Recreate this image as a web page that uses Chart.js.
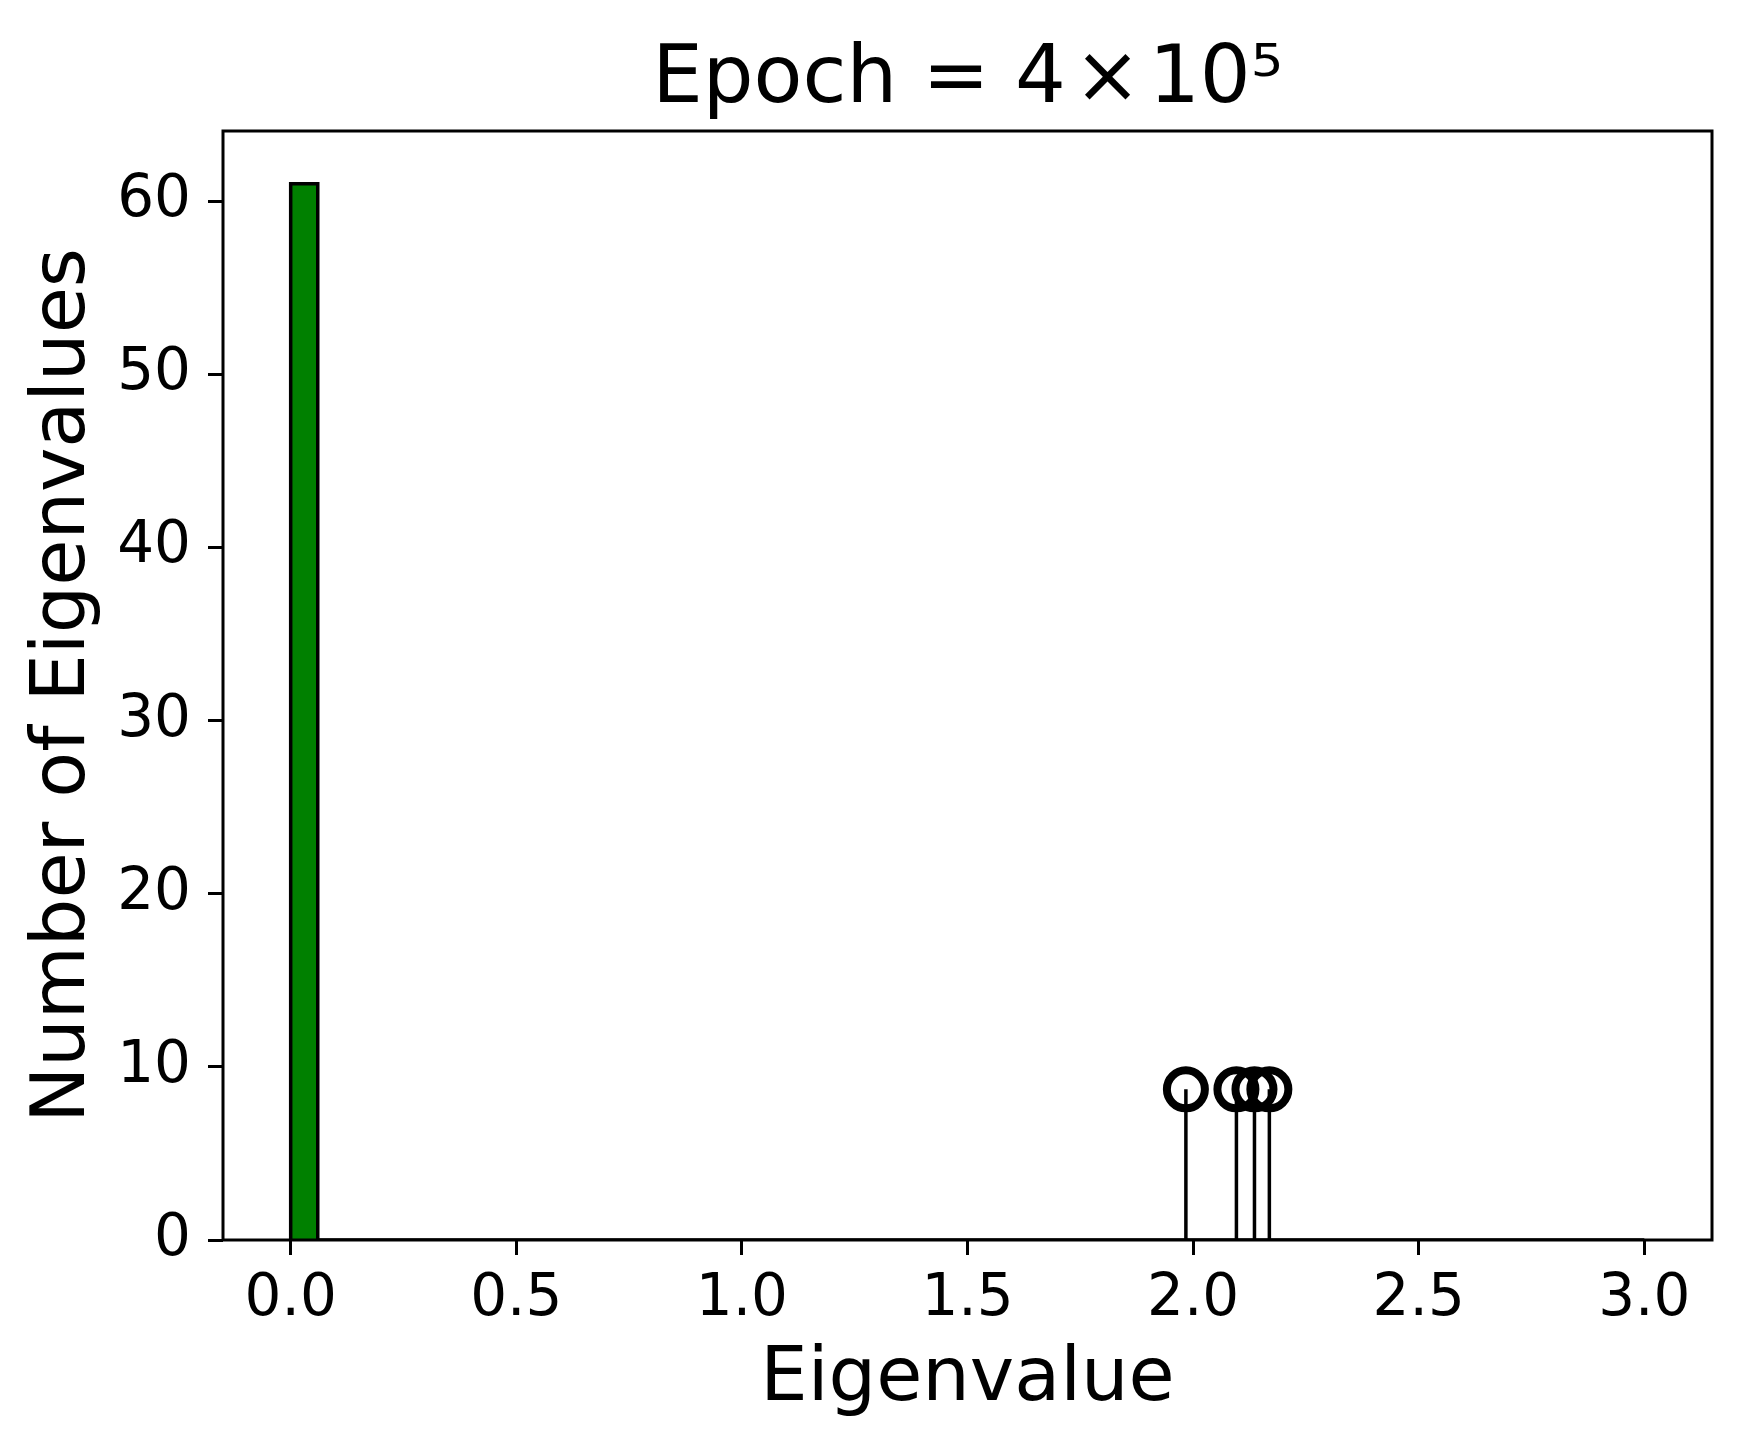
<!DOCTYPE html>
<html>
<head>
<meta charset="utf-8">
<title>Epoch = 4×10⁵</title>
<script src="https://cdn.jsdelivr.net/npm/chart.js@4.4.1/dist/chart.umd.min.js"></script>
<style>
  html, body { margin: 0; padding: 0; background: #ffffff; }
  #wrap { width: 1741px; height: 1446px; }
</style>
</head>
<body>
<div id="wrap"><canvas id="eigChart" width="1741" height="1446"></canvas></div>
<script>
// Histogram of the bulk eigenvalues (bins of width 0.06 from 0 to 3)
const binStart = 0;
const binWidth = 0.06;
const binCounts = [
    61, 0, 0, 0, 0, 0, 0, 0, 0, 0,
    0, 0, 0, 0, 0, 0, 0, 0, 0, 0,
    0, 0, 0, 0, 0, 0, 0, 0, 0, 0,
    0, 0, 0, 0, 0, 0, 0, 0, 0, 0,
    0, 0, 0, 0, 0, 0, 0, 0, 0, 0
];

// Outlier eigenvalues shown as stems
const outlierValues = [1.984, 2.096, 2.136, 2.169];
const outlierHeights = [8.7, 8.7, 8.7, 8.7];

// Axis ticks
const xTicks = [0, 0.5, 1.0, 1.5, 2.0, 2.5, 3.0];
const yTicks = [0, 10, 20, 30, 40, 50, 60];

// Build the histogram outline (step shape) from the bins
function histogramPoints() {
    let pts = [{ x: binStart, y: 0 }];
    for (let i = 0; i < binCounts.length; i++) {
        const left = binStart + i * binWidth;
        const right = binStart + (i + 1) * binWidth;
        pts.push({ x: left, y: binCounts[i] });
        pts.push({ x: right, y: binCounts[i] });
        pts.push({ x: right, y: 0 });
    }
    return pts;
}

// One vertical segment per outlier, separated by gaps
function stemPoints() {
    let pts = [];
    outlierValues.forEach((v, i) => {
        pts.push({ x: v, y: 0 });
        pts.push({ x: v, y: outlierHeights[i] });
        pts.push({ x: v, y: null });
    });
    return pts;
}

// Draw the full frame (matplotlib-like spines)
const frameBox = {
    id: 'frameBox',
    afterDatasetsDraw(chart) {
        const { ctx, chartArea: a } = chart;
        ctx.save();
        ctx.strokeStyle = '#000';
        ctx.lineWidth = 3;
        ctx.strokeRect(a.left, a.top, a.right - a.left, a.bottom - a.top);
        ctx.restore();
    }
};

Chart.defaults.font.family = '"DejaVu Sans", sans-serif';
Chart.defaults.color = '#000';

const xMax = binStart + binCounts.length * binWidth;
const xPad = (xMax - binStart) * 0.05;
const yMax = Math.max(...binCounts) * 1.05;

new Chart(document.getElementById('eigChart').getContext('2d'), {
    type: 'line',
    data: {
        datasets: [
            {
                label: 'histogram',
                data: histogramPoints(),
                borderColor: '#000',
                borderWidth: 3.5,
                backgroundColor: '#008000',
                fill: 'origin',
                pointRadius: 0,
                tension: 0,
                order: 3
            },
            {
                label: 'stems',
                data: stemPoints(),
                borderColor: '#000',
                borderWidth: 3.5,
                pointRadius: 0,
                fill: false,
                spanGaps: false,
                tension: 0,
                order: 2
            },
            {
                label: 'markers',
                data: outlierValues.map((v, i) => ({ x: v, y: outlierHeights[i] })),
                showLine: false,
                pointStyle: 'circle',
                pointRadius: 19,
                pointBorderWidth: 8,
                pointBorderColor: '#000',
                pointBackgroundColor: 'rgba(0,0,0,0)',
                order: 1
            }
        ]
    },
    options: {
        responsive: false,
        animation: false,
        devicePixelRatio: 1,
        layout: { padding: { left: 0, right: 29, top: 0, bottom: 0 } },
        plugins: {
            legend: { display: false },
            tooltip: { enabled: false },
            title: {
                display: true,
                fullSize: false,
                text: 'Epoch = 4\u200a\u00d7\u200a10\u2075',
                font: { size: 80, weight: 'normal' },
                color: '#000',
                padding: { top: 33, bottom: 2 }
            }
        },
        scales: {
            x: {
                type: 'linear',
                min: binStart - xPad,
                max: xMax + xPad,
                afterBuildTicks: (scale) => { scale.ticks = xTicks.map(v => ({ value: v })); },
                afterFit: (scale) => { scale.height = 206; },
                ticks: {
                    font: { size: 58 },
                    color: '#000',
                    padding: 10,
                    maxRotation: 0,
                    autoSkip: false,
                    callback: (v) => Number(v).toFixed(1)
                },
                grid: { drawOnChartArea: false, drawTicks: true, tickLength: 15, tickWidth: 3, tickColor: '#000' },
                border: { display: false },
                title: {
                    display: true,
                    text: 'Eigenvalue',
                    font: { size: 75 },
                    color: '#000',
                    padding: { top: 0, bottom: 20 }
                }
            },
            y: {
                type: 'linear',
                min: 0,
                max: yMax,
                afterBuildTicks: (scale) => { scale.ticks = yTicks.map(v => ({ value: v })); },
                afterFit: (scale) => { scale.width = 223; },
                ticks: {
                    font: { size: 58 },
                    color: '#000',
                    padding: 17,
                    autoSkip: false,
                    callback: (v) => String(v)
                },
                grid: { drawOnChartArea: false, drawTicks: true, tickLength: 15, tickWidth: 3, tickColor: '#000' },
                border: { display: false },
                title: {
                    display: true,
                    text: 'Number of Eigenvalues',
                    font: { size: 75 },
                    color: '#000',
                    padding: { top: 20, bottom: 0 }
                }
            }
        }
    },
    plugins: [frameBox]
});
</script>
</body>
</html>
